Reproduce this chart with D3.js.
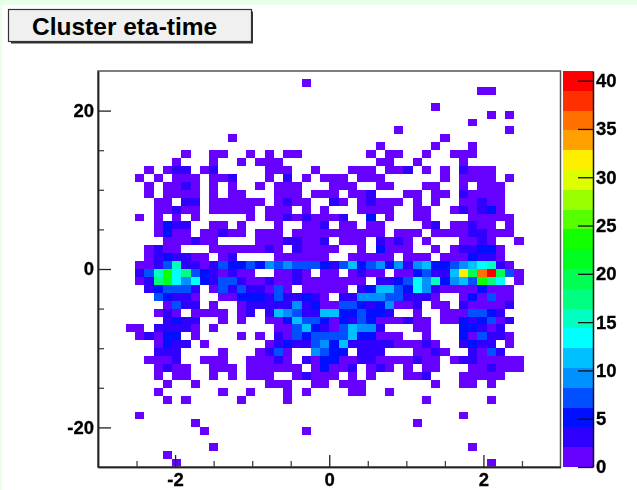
<!DOCTYPE html>
<html>
<head>
<meta charset="utf-8">
<script src="https://cdn.jsdelivr.net/npm/d3@7"></script>
<style>
  html, body { margin: 0; padding: 0; background: #fff; }
  svg { display: block; filter: blur(0.35px); }
  text { font-family: "Liberation Sans", sans-serif; font-weight: bold; fill: #000; }
</style>
</head>
<body>
<svg id="chart" width="637" height="490"></svg>
<script>
const titleText = 'Cluster eta-time'
const etaRange = [-3, 3]
const timeRange = [-25, 25]
const zMax = 41
const etaMajorTicks = [-2, 0, 2]
const etaMinorTicks = [-2.5, -1.5, -1, -0.5, 0.5, 1, 1.5, 2.5]
const timeMajorTicks = [-20, 0, 20]
const timeMinorTicks = [-15, -10, -5, 5, 10, 15]
const zTicks = [0, 5, 10, 15, 20, 25, 30, 35, 40]
const binCount = 50

// ROOT rainbow palette, 20 levels bottom to top
const palette = [
  '#6600ff', '#3000ff', '#0010ff', '#0050ff', '#0090ff',
  '#00c0ff', '#00ffff', '#00ffc0', '#00ff80', '#00ff50',
  '#00ff20', '#11ff00', '#55ff00', '#99ff00', '#ddff00',
  '#ffee00', '#ffa000', '#ff7000', '#ff3000', '#ff0000',
]

// counts per time bin (top of plot first), keyed by eta bin number
const countsByTimeBin = [
  {},
  {22:1},
  {41:1,42:1},
  {},
  {36:1},
  {42:1,44:1},
  {40:1},
  {32:1,44:1},
  {14:1,37:1},
  {30:1,36:1,40:1},
  {9:1,12:1,13:1,16:1,18:1,20:1,21:1,29:1,31:1,32:1,35:1,38:1,39:1,40:1},
  {8:1,12:1,15:1,17:1,18:1,19:1,30:1,31:1,34:1,39:1},
  {5:1,7:1,8:3,9:3,11:1,12:3,18:1,19:1,20:1,23:1,27:1,28:1,29:1,31:1,32:1,33:3,35:1,37:1,39:3,40:1,41:1,42:1},
  {4:1,6:1,8:1,9:1,10:1,12:1,13:1,14:3,18:1,20:3,22:1,24:1,25:1,26:1,28:1,29:1,30:1,37:1,39:1,40:1,41:1,42:1,44:1},
  {5:1,7:1,8:1,9:3,10:1,12:1,14:1,17:1,19:1,20:1,21:1,25:1,26:1,27:1,30:1,31:1,35:1,36:1,39:1,41:1,42:1,43:1},
  {5:1,7:1,8:1,9:1,10:1,12:1,14:1,15:1,19:1,20:1,21:1,23:1,24:1,25:1,27:1,28:1,29:3,33:1,34:1,36:1,37:1,39:3,40:1,41:1,42:1,43:1},
  {6:1,7:1,9:3,10:3,12:1,13:1,14:1,15:1,16:1,17:1,19:1,20:3,21:1,22:1,25:3,26:1,28:1,29:3,30:1,31:1,32:1,34:1,36:1,39:1,40:1,41:3,42:1,43:1},
  {6:1,7:1,8:3,9:1,10:1,12:1,13:1,14:1,15:1,16:1,18:1,19:1,20:1,22:1,24:1,28:1,29:1,30:1,31:1,34:1,35:1,38:1,39:3,40:1,41:3,42:5,43:1},
  {4:1,6:1,8:1,10:1,16:1,18:1,19:1,20:3,21:1,22:3,23:1,24:1,25:1,26:3,29:5,31:1,34:1,35:1,40:1,41:1,42:1,43:1,44:1},
  {6:1,7:5,8:3,9:3,12:1,13:1,15:1,19:1,22:1,23:1,24:3,26:1,27:1,29:1,30:1,35:1,36:3,38:1,39:1,40:3,41:1,42:1,44:1},
  {6:1,7:5,8:1,9:1,11:1,12:1,13:3,14:1,15:1,17:1,18:1,19:1,21:1,22:1,23:1,24:1,25:1,26:1,27:1,28:1,29:1,30:1,32:1,33:1,34:1,36:1,37:1,38:1,39:1,40:3,41:3,42:1,43:1,44:1},
  {7:1,8:1,9:1,10:3,11:1,12:1,17:1,18:1,19:1,20:3,21:3,22:1,23:1,24:3,26:1,27:1,28:1,30:3,31:1,32:3,33:1,35:1,39:1,40:1,41:3,42:1,45:1},
  {5:1,6:3,7:1,8:1,12:1,13:1,14:1,15:1,16:1,17:1,18:3,19:1,21:3,22:1,23:1,24:1,25:1,28:1,30:5,31:1,32:1,33:1,36:1,38:1,39:3,40:3,41:5,42:5,43:1},
  {5:1,6:3,7:5,8:3,9:3,10:1,11:1,13:1,14:3,19:1,20:1,21:1,22:1,23:1,24:1,27:1,28:1,29:1,30:1,31:1,33:1,34:1,35:1,37:1,38:1,39:1,40:5,41:3,42:3,43:1},
  {4:1,5:1,6:3,7:7,8:15,9:3,10:3,11:1,12:3,13:7,14:5,15:5,16:7,17:5,18:9,19:7,20:9,21:7,22:7,23:7,24:5,25:3,26:7,27:11,28:5,29:7,30:9,31:5,32:9,33:3,34:9,35:11,36:5,37:5,38:7,39:9,40:11,41:14,42:15,43:3,44:1},
  {4:3,5:7,6:15,7:24,8:13,9:18,10:7,11:5,12:3,13:1,14:3,15:1,16:1,19:1,20:1,21:3,22:1,24:1,25:1,27:1,28:3,29:1,30:1,32:1,33:1,34:5,35:7,36:3,37:3,38:11,39:31,40:19,41:35,42:41,43:19,44:7,45:1},
  {4:1,5:3,6:17,7:22,8:14,9:9,10:13,11:5,12:3,13:7,14:7,15:3,16:1,17:1,18:3,19:1,20:1,21:3,22:1,23:1,24:1,25:1,26:1,27:1,28:1,30:3,31:3,32:5,33:7,34:14,35:9,36:16,37:5,38:9,39:11,40:7,41:23,42:18,43:14,45:1},
  {5:3,6:5,7:7,8:7,9:7,10:3,12:1,13:7,14:3,15:7,16:3,17:3,18:1,19:7,20:1,22:1,23:1,24:1,25:1,26:1,28:3,29:5,30:11,31:11,32:7,33:5,34:14,35:9,36:3,37:1,38:1,39:1,40:1,41:5,42:1,43:1,44:1},
  {6:7,7:5,8:3,9:3,10:1,13:1,14:1,15:5,16:5,17:5,18:3,19:7,20:3,21:3,22:5,23:3,24:1,26:3,27:3,28:10,29:9,30:9,31:7,32:7,33:3,34:3,35:3,36:1,39:1,40:5,41:1,42:7,43:1,44:1},
  {7:1,8:7,9:3,10:3,12:1,15:1,16:3,17:3,18:3,19:3,20:3,21:9,22:3,23:5,24:1,25:1,26:7,27:7,28:5,29:3,30:5,31:9,32:1,33:1,34:3,36:1,37:1,39:3,40:1,41:1,42:1,43:1,44:3},
  {6:1,7:3,8:1,10:1,11:1,12:1,13:1,15:1,16:3,18:3,19:11,20:9,21:7,22:3,23:3,24:11,25:11,26:5,27:5,28:7,29:5,30:5,31:3,34:1,37:1,38:1,39:1,40:7,41:7,42:5,43:3},
  {7:3,8:5,9:3,10:3,13:1,15:1,18:1,19:1,20:5,21:11,22:7,23:7,24:5,25:1,26:5,27:3,28:7,29:5,30:1,31:1,32:1,33:3,34:1,35:1,37:1,38:1,39:5,40:3,41:5,42:7,43:1,44:3},
  {3:1,4:1,6:3,7:3,8:3,9:3,10:1,12:1,19:1,20:1,21:7,22:11,23:5,24:3,25:1,26:7,27:11,28:9,29:9,30:3,34:1,35:1,39:5,40:5,41:3,42:1,43:3},
  {4:1,5:3,6:1,7:5,8:5,10:1,15:1,17:1,19:3,20:1,21:7,22:5,23:7,24:7,25:7,26:7,27:11,28:5,29:5,30:1,31:1,32:1,35:1,39:5,40:1,41:7,42:3,43:3,44:1},
  {6:1,7:5,8:3,9:3,11:1,18:1,19:3,20:5,21:3,22:3,23:7,24:9,25:5,26:11,27:3,28:3,29:3,30:3,31:3,32:1,33:1,34:1,35:3,36:1,39:3,40:5,41:3,42:3,44:1},
  {6:3,7:3,8:3,13:1,17:1,18:3,19:7,20:1,23:9,24:7,25:5,26:5,28:3,29:3,30:3,34:1,35:1,36:3,37:1,40:3,41:1,42:7,43:3},
  {5:1,6:1,7:1,8:3,11:1,12:1,13:1,16:1,17:1,18:1,19:3,20:1,22:3,23:1,24:5,25:5,26:1,27:1,28:3,29:3,30:1,31:1,32:1,33:1,34:3,35:1,36:1,38:1,39:3,40:3,41:1,42:1,43:1,44:1,45:1},
  {6:1,7:3,8:1,9:1,12:1,13:1,14:1,16:1,17:1,18:1,19:1,20:1,21:1,23:1,24:5,25:1,26:1,27:3,29:1,30:3,31:1,33:1,35:1,36:1,40:1,41:1,42:3,43:1,44:1,45:1},
  {6:1,8:1,9:1,12:1,14:1,16:1,17:1,18:1,21:1,22:3,23:1,24:1,25:1,27:1,29:1,33:1,34:1,35:3,39:1,40:1,41:1,42:1,43:1},
  {7:1,10:1,18:1,19:1,20:1,23:1,24:1,26:1,27:1,28:1,36:1,39:1,40:1,42:1},
  {6:1,13:1,16:1,20:1,22:1,27:1,28:1,31:1},
  {7:1,9:1,15:1,20:1,35:1,42:1},
  {},
  {4:1,39:1},
  {10:1,34:1},
  {11:1,22:1},
  {},
  {12:1,40:1},
  {7:1},
  {8:1,42:1},
]

const svg = d3.select('#chart')

// pale green strip left along the top and left edge of the page
svg.append('rect').attr('width', 637).attr('height', 5).attr('fill', '#e8ffe8')
svg.append('rect').attr('width', 2).attr('height', 490).attr('fill', '#e8ffe8')

// Title box
svg.append('rect').attr('x', 11).attr('y', 11.5).attr('width', 242).attr('height', 32).attr('fill', '#333')
svg.append('rect')
  .attr('x', 8.5).attr('y', 9.5).attr('width', 243).attr('height', 32)
  .attr('fill', '#f0f0f0').attr('stroke', '#333').attr('stroke-width', 1.2)
svg.append('text').attr('x', 32).attr('y', 35).attr('font-size', 24.5).text(titleText)

const plot = { left: 98, right: 560.5, top: 71, bottom: 467 }

const x = d3.scaleLinear().domain(etaRange).range([plot.left, plot.right])
const y = d3.scaleLinear().domain(timeRange).range([plot.bottom, plot.top])
const z = d3.scaleLinear().domain([0, zMax]).range([plot.bottom, plot.top])
const color = d3.scaleQuantize().domain([0, zMax]).range(palette)

const etaBin = d3.scaleLinear().domain([0, binCount]).range(etaRange)
const timeBin = d3.scaleLinear().domain([0, binCount]).range([timeRange[1], timeRange[0]])

// Cells
const cells = countsByTimeBin.flatMap((row, r) =>
  Object.entries(row).map(([c, count]) => ({ r, c: +c, count }))
)

svg.append('g')
  .selectAll('rect')
  .data(cells)
  .join('rect')
  .attr('x', d => x(etaBin(d.c)))
  .attr('y', d => y(timeBin(d.r)))
  .attr('width', d => x(etaBin(d.c + 1)) - x(etaBin(d.c)))
  .attr('height', d => y(timeBin(d.r + 1)) - y(timeBin(d.r)))
  .attr('fill', d => color(d.count))
  .attr('shape-rendering', 'crispEdges')

// Palette bands
svg.append('g')
  .selectAll('rect')
  .data(palette)
  .join('rect')
  .attr('x', 563)
  .attr('width', 30)
  .attr('y', d => z(color.invertExtent(d)[1]))
  .attr('height', d => z(color.invertExtent(d)[0]) - z(color.invertExtent(d)[1]))
  .attr('fill', d => d)
  .attr('shape-rendering', 'crispEdges')

// Frame
svg.append('rect')
  .attr('x', plot.left).attr('y', plot.top)
  .attr('width', plot.right - plot.left).attr('height', plot.bottom - plot.top)
  .attr('fill', 'none').attr('stroke', '#555').attr('stroke-width', 1.5)

function styleAxis(g, stroke) {
  g.select('.domain').attr('stroke', stroke).attr('stroke-width', 1.5)
  g.selectAll('.tick line').attr('stroke', stroke).attr('stroke-width', 1.3)
  g.selectAll('.tick text')
    .attr('font-size', 18.5)
    .attr('fill', '#000')
    .attr('stroke', '#000')
    .attr('stroke-width', 0.3)
}

// plain hyphen for negatives, as in the reference
const tickLabel = d => String(d)

// Axes, ticks point into the frame like ROOT does
const xMinor = svg.append('g').attr('transform', `translate(0,${plot.bottom})`)
  .call(d3.axisBottom(x).tickValues(etaMinorTicks).tickSizeInner(-6).tickSizeOuter(0).tickFormat(''))
styleAxis(xMinor, '#444')

const xMajor = svg.append('g').attr('transform', `translate(0,${plot.bottom})`)
  .call(d3.axisBottom(x).tickValues(etaMajorTicks).tickSizeInner(-12).tickSizeOuter(0).tickPadding(19).tickFormat(tickLabel))
styleAxis(xMajor, '#222')
xMajor.selectAll('.tick text').attr('dy', 0).attr('y', 19)

const yMinor = svg.append('g').attr('transform', `translate(${plot.left},0)`)
  .call(d3.axisLeft(y).tickValues(timeMinorTicks).tickSizeInner(-6).tickSizeOuter(0).tickFormat(''))
styleAxis(yMinor, '#444')

const yMajor = svg.append('g').attr('transform', `translate(${plot.left},0)`)
  .call(d3.axisLeft(y).tickValues(timeMajorTicks).tickSizeInner(-13).tickSizeOuter(0).tickPadding(4).tickFormat(tickLabel))
styleAxis(yMajor, '#222')

const zAxis = svg.append('g').attr('transform', 'translate(593,0)')
  .call(d3.axisRight(z).tickValues(zTicks).tickSizeInner(-15).tickSizeOuter(0).tickPadding(3).tickFormat(tickLabel))
styleAxis(zAxis, '#111')
</script>
</body>
</html>
